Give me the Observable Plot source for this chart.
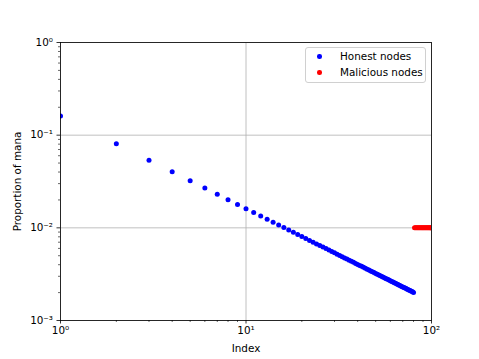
<!DOCTYPE html>
<html>
<head>
<meta charset="utf-8">
<script src="https://cdn.jsdelivr.net/npm/d3@7"></script>
<script src="https://cdn.jsdelivr.net/npm/@observablehq/plot@0.6"></script>
<style>
  html, body { margin: 0; padding: 0; background: #fff; }
  #wrap { position: relative; width: 479px; height: 359px; font-family: "DejaVu Sans", sans-serif; }
  #legend { position: absolute; left: 305px; top: 47px; width: 121px; height: 36px; border: 1px solid #d0d0d0; border-radius: 3px; background: rgba(255,255,255,0.8); font-size: 10.4px; box-sizing: border-box; }
  .row { position: absolute; left: 0; height: 14px; line-height: 14px; }
  .sw { position: absolute; left: 11px; top: 5px; width: 4.5px; height: 4.5px; border-radius: 50%; }
  .lb { position: absolute; left: 34px; white-space: nowrap; color: #000; }
</style>
</head>
<body>
<div id="wrap">
  <div id="chart"></div>
  <div id="legend">
    <div class="row" style="top:1px"><span class="sw" style="background:#0000ff"></span><span class="lb">Honest nodes</span></div>
    <div class="row" style="top:17px"><span class="sw" style="background:#ff0000"></span><span class="lb">Malicious nodes</span></div>
  </div>
</div>
<script>
const honestIndex = [1,2,3,4,5,6,7,8,9,10,11,12,13,14,15,16,17,18,19,20,21,22,23,24,25,26,27,28,29,30,31,32,33,34,35,36,37,38,39,40,41,42,43,44,45,46,47,48,49,50,51,52,53,54,55,56,57,58,59,60,61,62,63,64,65,66,67,68,69,70,71,72,73,74,75,76,77,78,79,80];
const honestMana = [0.1611,0.0806,0.0537,0.0403,0.0322,0.0269,0.0230,0.0201,0.0179,0.0161,
  0.01465,0.01343,0.01239,0.01151,0.01074,0.01007,0.00948,0.00895,0.00848,0.00806,
  0.00767,0.00732,0.00700,0.00671,0.00644,0.00620,0.00597,0.00575,0.00556,0.00537,
  0.00520,0.00503,0.00488,0.00474,0.00460,0.00448,0.00435,0.00424,0.00413,0.00403,
  0.00393,0.00384,0.00375,0.00366,0.00358,0.00350,0.00343,0.00336,0.00329,0.00322,
  0.00316,0.00310,0.00304,0.00298,0.00293,0.00288,0.00283,0.00278,0.00273,0.00269,
  0.00264,0.00260,0.00256,0.00252,0.00248,0.00244,0.00240,0.00237,0.00233,0.00230,
  0.00227,0.00224,0.00221,0.00218,0.00215,0.00212,0.00209,0.00207,0.00204,0.00201];
const maliciousIndex = [81,82,83,84,85,86,87,88,89,90,91,92,93,94,95,96,97,98,99,100];
const maliciousMana = [0.01,0.01,0.01,0.01,0.01,0.01,0.01,0.01,0.01,0.01,0.01,0.01,0.01,0.01,0.01,0.01,0.01,0.01,0.01,0.01];
const xMajor = [1,10,100];
const xMajorLabels = ["10⁰","10¹","10²"];
const yMajor = [0.001,0.01,0.1,1];
const yMajorLabels = ["10⁻³","10⁻²","10⁻¹","10⁰"];
const xMinor = [2,3,4,5,6,7,8,9,20,30,40,50,60,70,80,90];
const yMinor = [0.002,0.003,0.004,0.005,0.006,0.007,0.008,0.009,0.02,0.03,0.04,0.05,0.06,0.07,0.08,0.09,0.2,0.3,0.4,0.5,0.6,0.7,0.8,0.9];

const honest = honestIndex.map((x,i)=>({x, y: honestMana[i]}));
const malicious = maliciousIndex.map((x,i)=>({x, y: maliciousMana[i]}));

const chart = Plot.plot({
  width: 479, height: 359,
  marginLeft: 60, marginRight: 48, marginTop: 42, marginBottom: 39,
  style: {fontFamily: "DejaVu Sans, sans-serif", fontSize: "10.4px", color: "#000", background: "#fff"},
  x: {type: "log", domain: [1,100]},
  y: {type: "log", domain: [0.001,1]},
  marks: [
    Plot.gridX(xMajor, {stroke: "#b0b0b0", strokeOpacity: 1, strokeWidth: 0.8}),
    Plot.gridY(yMajor, {stroke: "#b0b0b0", strokeOpacity: 1, strokeWidth: 0.8}),
    Plot.dot(honest, {x: "x", y: "y", r: 2.5, fill: "#0000ff", stroke: null, clip: true}),
    Plot.dot(malicious, {x: "x", y: "y", r: 2.5, fill: "#ff0000", stroke: null, clip: true}),
    Plot.frame({stroke: "#000", strokeWidth: 0.8}),
    Plot.axisX(xMinor, {tickSize: 2, tickFormat: () => "", strokeWidth: 0.6, label: null}),
    Plot.axisY(yMinor, {tickSize: 2, tickFormat: () => "", strokeWidth: 0.6, label: null}),
    Plot.axisX(xMajor, {tickSize: 3.5, tickPadding: 3, strokeWidth: 0.8, tickFormat: (d) => xMajorLabels[xMajor.indexOf(d)], label: "Index", labelAnchor: "center", labelArrow: false, labelOffset: 31}),
    Plot.axisY(yMajor, {tickSize: 3.5, tickPadding: 4, strokeWidth: 0.8, tickFormat: (d) => yMajorLabels[yMajor.indexOf(d)], label: "Proportion of mana", labelAnchor: "center", labelArrow: false, labelOffset: 47})
  ]
});
document.getElementById("chart").appendChild(chart);
</script>
</body>
</html>
